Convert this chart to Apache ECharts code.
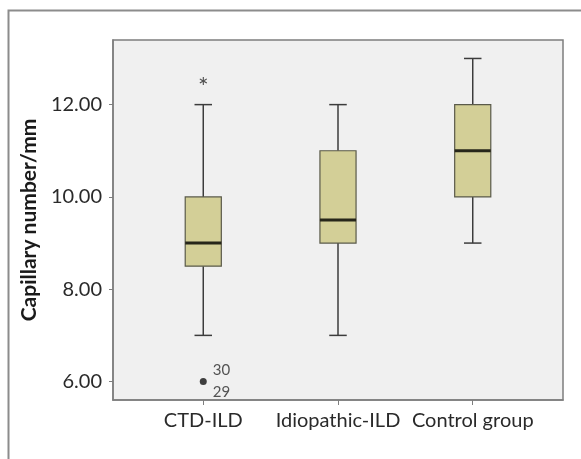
<!DOCTYPE html>
<html>
<head>
<meta charset="utf-8">
<script src="https://cdn.jsdelivr.net/npm/echarts@6/dist/echarts.min.js"></script>
<style>
  html, body { margin: 0; padding: 0; background: #fff; }
  #main { width: 581px; height: 459px; }
</style>
</head>
<body>
<div id="main"></div>
<script>
  // groups and box stats: [low whisker, Q1, median, Q3, high whisker]
  var categories = ['CTD-ILD', 'Idiopathic-ILD', 'Control group'];
  var lowWhisker = [7, 7, 9];
  var q1 = [8.5, 9, 10];
  var median = [9, 9.5, 11];
  var q3 = [10, 11, 12];
  var highWhisker = [12, 12, 13];
  // outliers (circle) and extreme values (asterisk)
  var outliers = [[0, 6]];
  var outlierIds = ['30', '29'];
  var extremes = [[0, 12.45]];
  var yTicks = [6, 8, 10, 12];
  var xTicks = [0, 1, 2];

  var boxData = categories.map(function (c, i) {
    return [i, lowWhisker[i], q1[i], median[i], q3[i], highWhisker[i]];
  });

  var chart = echarts.init(document.getElementById('main'));
  var font = 'Lato, "Open Sans", sans-serif';

  // SPSS-style box: narrow whisker caps, thick median
  function renderBox(params, api) {
    var idx = api.value(0);
    var pLow = api.coord([idx, api.value(1)]);
    var pQ1 = api.coord([idx, api.value(2)]);
    var pMed = api.coord([idx, api.value(3)]);
    var pQ3 = api.coord([idx, api.value(4)]);
    var pHigh = api.coord([idx, api.value(5)]);
    var unit = api.size([1, 0])[0];
    var bw = unit * 0.268;
    var cw = unit * 0.13;
    var x = pMed[0];
    var lineStyle = { stroke: '#3c3c3c', lineWidth: 1.5 };
    return {
      type: 'group',
      children: [
        { type: 'line', shape: { x1: x, y1: pHigh[1], x2: x, y2: pQ3[1] }, style: lineStyle },
        { type: 'line', shape: { x1: x, y1: pQ1[1], x2: x, y2: pLow[1] }, style: lineStyle },
        { type: 'line', shape: { x1: x - cw / 2, y1: pHigh[1], x2: x + cw / 2, y2: pHigh[1] }, style: lineStyle },
        { type: 'line', shape: { x1: x - cw / 2, y1: pLow[1], x2: x + cw / 2, y2: pLow[1] }, style: lineStyle },
        {
          type: 'rect',
          shape: { x: x - bw / 2, y: pQ3[1], width: bw, height: pQ1[1] - pQ3[1] },
          style: { fill: '#d3cf97', stroke: '#5a5a4a', lineWidth: 1.2 }
        },
        { type: 'line', shape: { x1: x - bw / 2, y1: pMed[1], x2: x + bw / 2, y2: pMed[1] },
          style: { stroke: '#26261a', lineWidth: 3 } }
      ]
    };
  }

  var option = {
    backgroundColor: '#ffffff',
    animation: false,
    graphic: [{
      type: 'rect',
      left: 6, top: 8,
      shape: { width: 700, height: 600 },
      style: { fill: 'none', stroke: '#8c8c8c', lineWidth: 2 },
      z: -1
    }],
    grid: {
      left: 113, right: 18, top: 40, bottom: 59,
      show: true,
      backgroundColor: '#f0f0f0',
      borderColor: '#7e7e7e',
      borderWidth: 1.5
    },
    xAxis: {
      type: 'value',
      min: -0.67,
      max: 2.67,
      axisLine: { show: true, onZero: false, lineStyle: { color: '#7e7e7e', width: 1.5 } },
      axisTick: { show: true, length: 5, customValues: xTicks, lineStyle: { color: '#7e7e7e' } },
      axisLabel: {
        customValues: xTicks,
        color: '#2a2a2a', fontFamily: font, fontSize: 20, margin: 11,
        formatter: function (v) { return categories[Math.round(v)]; }
      },
      splitLine: { show: false }
    },
    yAxis: {
      type: 'value',
      min: 5.6,
      max: 13.4,
      name: 'Capillary number/mm',
      nameLocation: 'middle',
      nameGap: 73,
      nameTextStyle: { color: '#1a1a1a', fontFamily: font, fontSize: 21, fontWeight: 'bold' },
      axisLine: { show: true, onZero: false, lineStyle: { color: '#7e7e7e', width: 1.5 } },
      axisTick: { show: true, length: 4, customValues: yTicks, lineStyle: { color: '#7e7e7e' } },
      axisLabel: {
        customValues: yTicks,
        color: '#2a2a2a', fontFamily: font, fontSize: 20, margin: 11,
        formatter: function (v) { return v.toFixed(2); }
      },
      splitLine: { show: false }
    },
    series: [
      {
        type: 'custom',
        renderItem: renderBox,
        data: boxData,
        z: 3
      },
      {
        type: 'scatter',
        data: outliers,
        symbol: 'circle',
        symbolSize: 7,
        itemStyle: { color: '#111' },
        label: {
          show: true,
          position: 'right',
          distance: 6,
          formatter: outlierIds.join('\n'),
          color: '#2a2a2a', fontFamily: font, fontSize: 15, lineHeight: 22
        },
        z: 4
      },
      {
        type: 'scatter',
        data: extremes,
        symbol: 'circle',
        symbolSize: 2,
        itemStyle: { color: 'rgba(0,0,0,0)' },
        label: {
          show: true,
          position: 'inside',
          formatter: '*',
          offset: [0, 4],
          color: '#222', fontFamily: font, fontSize: 25
        },
        z: 4
      }
    ]
  };

  chart.setOption(option);
</script>
</body>
</html>
